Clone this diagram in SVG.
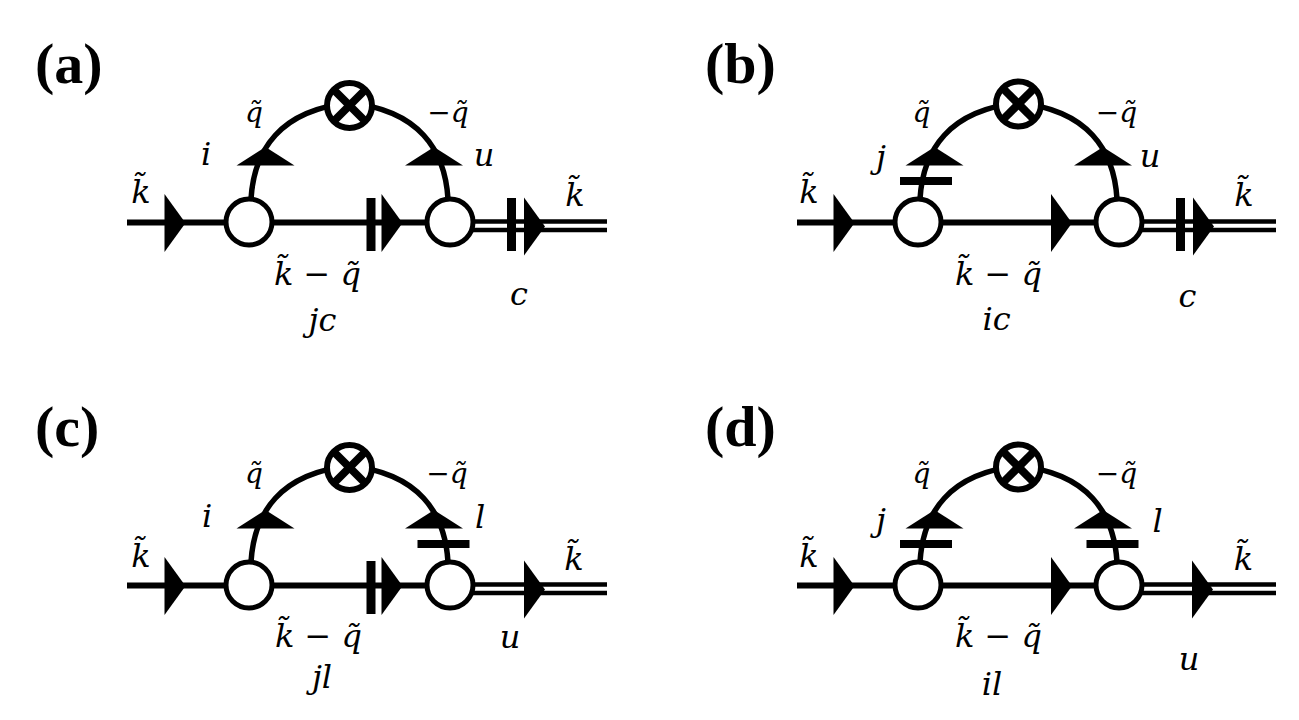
<svg xmlns="http://www.w3.org/2000/svg" xmlns:xlink="http://www.w3.org/1999/xlink" width="1299" height="720" viewBox="0 0 1299 720">
<style>
.ln{stroke:#000;stroke-width:6;fill:none}
.dl{stroke:#000;stroke-width:4.5;fill:none}
.arc{stroke:#000;stroke-width:5.5;fill:none}
.vx{fill:#fff;stroke:#000;stroke-width:5}
.xw{fill:#fff;stroke:none}
.xo{fill:none;stroke:#000;stroke-width:6}
.xx{stroke:#000;stroke-width:8}
.lb{font-family:"DejaVu Serif",serif;font-style:italic;font-size:32px;fill:#000;text-anchor:middle}
.sm{font-size:28px}
.ttl{font-family:"Liberation Serif","Times New Roman",serif;font-weight:bold;font-size:58px;fill:#000}
</style>
<defs>
<polygon id="tri-r" points="-21,-29 0,0 -21,29" fill="#000"/>
<polygon id="tri-u" points="-29,18.5 0,0 29,18.5" fill="#000"/>
<rect id="bar-v" x="-4.5" y="-26.5" width="9" height="53" fill="#000"/>
<rect id="bar-h" x="-26" y="-4" width="52" height="8" fill="#000"/>
<g id="xcirc">
<circle class="xw" cx="0" cy="0" r="22.5"/>
<line class="xx" x1="-16" y1="-16" x2="16" y2="16"/>
<line class="xx" x1="-16" y1="16" x2="16" y2="-16"/>
<circle class="xo" cx="0" cy="0" r="22.5"/>
</g>
</defs>
<rect width="1299" height="720" fill="#fff"/>

<!-- Panel (a) -->
<g id="panel-a">
<text class="ttl" x="35" y="83">(a)</text>
<g id="a-connectors">
<line class="ln" x1="127" y1="222.5" x2="450" y2="222.5"/>
<line class="dl" x1="450" y1="221.5" x2="607" y2="221.5"/>
<line class="dl" x1="450" y1="230" x2="607" y2="230"/>
<path class="arc" d="M251,199 C254,150 280,110 349.5,103 C419,110 445,150 448,199"/>
<use xlink:href="#tri-r" x="185.5" y="223"/>
<use xlink:href="#bar-v" x="371" y="224.5"/>
<use xlink:href="#tri-r" x="402.5" y="223"/>
<use xlink:href="#bar-v" x="511.5" y="224.5"/>
<use xlink:href="#tri-r" x="545" y="226.5"/>
<use xlink:href="#tri-u" x="265.5" y="147"/>
<use xlink:href="#tri-u" x="434" y="147"/>
</g>
<g id="a-v1"><circle class="vx" cx="249" cy="222" r="23"/></g>
<g id="a-v2"><circle class="vx" cx="450" cy="222" r="23"/></g>
<g id="a-x"><use xlink:href="#xcirc" x="349.5" y="105.5"/></g>
<g id="a-labels">
<text class="lb" x="141" y="203">k̃</text>
<text class="lb sm" x="254" y="122">q̃</text>
<text class="lb" x="206" y="165">i</text>
<text class="lb sm" x="448" y="122">−q̃</text>
<text class="lb" x="484" y="166">u</text>
<text class="lb" x="575" y="206">k̃</text>
<text class="lb" x="317.5" y="285">k̃ − q̃</text>
<text class="lb" x="519" y="305">c</text>
<text class="lb" x="322.5" y="331">jc</text>
</g>
</g>

<!-- Panel (b) -->
<g id="panel-b">
<text class="ttl" x="705" y="83">(b)</text>
<g transform="translate(669,0)">
<g id="b-connectors">
<line class="ln" x1="128" y1="222.5" x2="450" y2="222.5"/>
<line class="dl" x1="450" y1="221.5" x2="607" y2="221.5"/>
<line class="dl" x1="450" y1="230" x2="607" y2="230"/>
<path class="arc" d="M251,199 C254,150 280,110 349.5,103 C419,110 445,150 448,199"/>
<use xlink:href="#tri-r" x="185.5" y="223"/>
<use xlink:href="#tri-r" x="403" y="223"/>
<use xlink:href="#bar-v" x="511.5" y="224.5"/>
<use xlink:href="#tri-r" x="545" y="226.5"/>
<use xlink:href="#bar-h" x="257" y="181"/>
<use xlink:href="#tri-u" x="265.5" y="147"/>
<use xlink:href="#tri-u" x="434" y="147"/>
</g>
<g id="b-v1"><circle class="vx" cx="249" cy="222" r="23"/></g>
<g id="b-v2"><circle class="vx" cx="450" cy="222" r="23"/></g>
<g id="b-x"><use xlink:href="#xcirc" x="349.5" y="104"/></g>
<g id="b-labels">
<text class="lb" x="140" y="203">k̃</text>
<text class="lb sm" x="252.5" y="122">q̃</text>
<text class="lb" x="212" y="168">j</text>
<text class="lb sm" x="447.5" y="122">−q̃</text>
<text class="lb" x="481" y="167">u</text>
<text class="lb" x="575" y="206">k̃</text>
<text class="lb" x="329.5" y="285">k̃ − q̃</text>
<text class="lb" x="518.5" y="307">c</text>
<text class="lb" x="327.5" y="330">ic</text>
</g>
</g>
</g>

<!-- Panel (c) -->
<g id="panel-c">
<text class="ttl" x="35" y="446">(c)</text>
<g transform="translate(0,363)">
<g id="c-connectors">
<line class="ln" x1="127" y1="222.5" x2="450" y2="222.5"/>
<line class="dl" x1="450" y1="221.5" x2="607" y2="221.5"/>
<line class="dl" x1="450" y1="230" x2="607" y2="230"/>
<path class="arc" d="M251,199 C254,150 280,110 349.5,103 C419,110 445,150 448,199"/>
<use xlink:href="#tri-r" x="185.5" y="223"/>
<use xlink:href="#bar-v" x="371" y="224.5"/>
<use xlink:href="#tri-r" x="402.5" y="223"/>
<use xlink:href="#tri-r" x="545" y="226.5"/>
<use xlink:href="#bar-h" x="443.5" y="181"/>
<use xlink:href="#tri-u" x="265.5" y="147"/>
<use xlink:href="#tri-u" x="434" y="147"/>
</g>
<g id="c-v1"><circle class="vx" cx="249" cy="222" r="23"/></g>
<g id="c-v2"><circle class="vx" cx="450" cy="222" r="23"/></g>
<g id="c-x"><use xlink:href="#xcirc" x="349.5" y="104.5"/></g>
<g id="c-labels">
<text class="lb" x="141" y="204">k̃</text>
<text class="lb sm" x="254" y="120">q̃</text>
<text class="lb" x="207" y="164">i</text>
<text class="lb sm" x="447" y="120">−q̃</text>
<text class="lb" x="480" y="165">l</text>
<text class="lb" x="574" y="207">k̃</text>
<text class="lb" x="318.5" y="284">k̃ − q̃</text>
<text class="lb" x="510" y="285">u</text>
<text class="lb" x="322" y="325">jl</text>
</g>
</g>
</g>

<!-- Panel (d) -->
<g id="panel-d">
<text class="ttl" x="705" y="446">(d)</text>
<g transform="translate(669,363)">
<g id="d-connectors">
<line class="ln" x1="128" y1="222.5" x2="450" y2="222.5"/>
<line class="dl" x1="450" y1="221.5" x2="607" y2="221.5"/>
<line class="dl" x1="450" y1="230" x2="607" y2="230"/>
<path class="arc" d="M251,199 C254,150 280,110 349.5,103 C419,110 445,150 448,199"/>
<use xlink:href="#tri-r" x="185.5" y="223"/>
<use xlink:href="#tri-r" x="403" y="223"/>
<use xlink:href="#tri-r" x="544" y="226.5"/>
<use xlink:href="#bar-h" x="257" y="181"/>
<use xlink:href="#bar-h" x="443.5" y="181"/>
<use xlink:href="#tri-u" x="265.5" y="147"/>
<use xlink:href="#tri-u" x="434" y="147"/>
</g>
<g id="d-v1"><circle class="vx" cx="249" cy="222" r="23"/></g>
<g id="d-v2"><circle class="vx" cx="450" cy="222" r="23"/></g>
<g id="d-x"><use xlink:href="#xcirc" x="349.5" y="104"/></g>
<g id="d-labels">
<text class="lb" x="140" y="204">k̃</text>
<text class="lb sm" x="252.5" y="120">q̃</text>
<text class="lb" x="212" y="168">j</text>
<text class="lb sm" x="447.5" y="120">−q̃</text>
<text class="lb" x="488.5" y="169">l</text>
<text class="lb" x="574.5" y="207">k̃</text>
<text class="lb" x="329.5" y="284">k̃ − q̃</text>
<text class="lb" x="520" y="307">u</text>
<text class="lb" x="323" y="332">il</text>
</g>
</g>
</g>
</svg>
